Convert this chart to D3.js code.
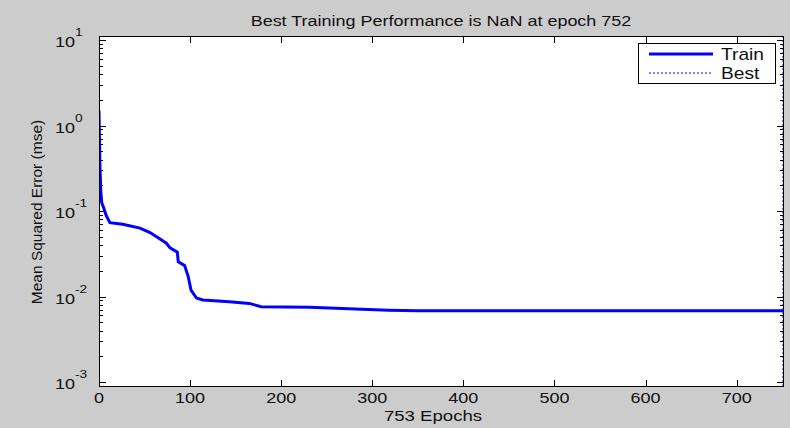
<!DOCTYPE html>
<html>
<head>
<meta charset="utf-8">
<script src="https://cdn.jsdelivr.net/npm/d3@7"></script>
<style>
    body { margin: 0; background: #fff; }
    text { font-family: 'Liberation Sans', Arial, sans-serif; fill: #111; }
</style>
</head>
<body>
<div class="main"></div>
<script>
// values
var epochs = [0, 1, 2, 3, 5, 8, 12, 26, 45, 56, 67, 74, 78, 86, 87, 94, 98, 101, 107, 114, 143, 165, 178, 231, 274, 318, 350, 752];
var mse = [1.5, 0.35, 0.17, 0.125, 0.11, 0.088, 0.073, 0.07, 0.063, 0.056, 0.047, 0.042, 0.037, 0.033, 0.0255, 0.023, 0.017, 0.0119, 0.0096, 0.0091, 0.0087, 0.0083, 0.0076, 0.0075, 0.0072, 0.0069, 0.0068, 0.0068];
var xTicks = [0, 100, 200, 300, 400, 500, 600, 700];
var yDecades = [-3, -2, -1, 0, 1];
var bestEpoch = 752;
var titleText = 'Best Training Performance is NaN at epoch 752';
var xLabel = '753 Epochs';
var yLabel = 'Mean Squared Error  (mse)';
var legendNames = ['Train', 'Best'];

var options = {
    'width': 790,
    'height': 428,
    'left': 99,
    'right': 784,
    'top': 36,
    'bottom': 387,
    'stretch': 1.2
};

var svg = d3.select('.main')
    .append('svg')
    .attr('width', options.width)
    .attr('height', options.height);

svg.append('rect')
    .attr('width', options.width)
    .attr('height', options.height)
    .style('fill', '#cccccc');

svg.append('rect')
    .attr('x', options.left)
    .attr('y', options.top)
    .attr('width', options.right - options.left)
    .attr('height', options.bottom - options.top)
    .style('fill', '#fff');

var x = d3.scaleLinear().domain([0, 752]).range([options.left, options.right]);
var y = d3.scaleLog().domain([1e-3, 1e1]).range([382, 40]);

// text stretched horizontally like the picture
function label(g, tx, ty, str, size, anchor) {
    return g.append('text')
        .attr('transform', 'translate(' + [tx, ty] + ') scale(' + options.stretch + ',1)')
        .attr('text-anchor', anchor)
        .style('font-size', size + 'px')
        .text(str);
}

svg.append('defs')
    .append('clipPath')
    .attr('id', 'clip')
    .append('rect')
    .attr('x', options.left)
    .attr('y', options.top)
    .attr('width', options.right - options.left)
    .attr('height', options.bottom - options.top);

// ticks
var minor = [];
yDecades.forEach(function (d) {
    for (var k = 2; k <= 9; k++) {
        if (d < 1) minor.push(k * Math.pow(10, d));
    }
});
var major = yDecades.map(function (d) { return Math.pow(10, d); });

var gTicks = svg.append('g').style('stroke', '#000').style('stroke-width', 1);

gTicks.selectAll('.ymaj')
    .data(major)
    .enter()
    .append('path')
    .attr('d', function (d) {
        var yy = Math.round(y(d)) + 0.5;
        return 'M' + options.left + ',' + yy + 'h7M' + options.right + ',' + yy + 'h-7';
    });

gTicks.selectAll('.ymin')
    .data(minor)
    .enter()
    .append('path')
    .attr('d', function (d) {
        var yy = Math.round(y(d)) + 0.5;
        return 'M' + options.left + ',' + yy + 'h4M' + options.right + ',' + yy + 'h-4';
    });

gTicks.selectAll('.xt')
    .data(xTicks)
    .enter()
    .append('path')
    .attr('d', function (d) {
        var xx = Math.round(x(d)) + 0.5;
        return 'M' + xx + ',' + options.bottom + 'v-7M' + xx + ',' + options.top + 'v7';
    });

// train line
var line = d3.line()
    .x(function (d, i) { return x(epochs[i]); })
    .y(function (d) { return y(d); });

svg.append('path')
    .datum(mse)
    .attr('clip-path', 'url(#clip)')
    .attr('d', line)
    .style('fill', 'none')
    .style('stroke', '#0000ff')
    .style('stroke-width', 3);

// best marker
svg.append('line')
    .attr('x1', x(bestEpoch) - 1)
    .attr('x2', x(bestEpoch) - 1)
    .attr('y1', options.top)
    .attr('y2', options.bottom)
    .style('stroke', '#0000ff')
    .style('stroke-width', 1)
    .style('stroke-dasharray', '2,2');

// frame
svg.append('rect')
    .attr('x', options.left + 0.5)
    .attr('y', options.top + 0.5)
    .attr('width', options.right - options.left - 1)
    .attr('height', options.bottom - options.top - 1)
    .style('fill', 'none')
    .style('stroke', '#000');

// tick labels
xTicks.forEach(function (d) {
    label(svg, x(d), 403, d, 15, 'middle');
});

yDecades.forEach(function (d) {
    var t = svg.append('text')
        .attr('transform', 'translate(' + [55, y(Math.pow(10, d)) + 7] + ') scale(' + options.stretch + ',1)')
        .style('font-size', '15px');
    t.append('tspan').text('10');
    t.append('tspan')
        .attr('dy', -11)
        .style('font-size', '11.5px')
        .text(d);
});

label(svg, 441, 26, titleText, 15, 'middle');
label(svg, 433, 421, xLabel, 15.5, 'middle');

svg.append('text')
    .attr('transform', 'translate(42,212) rotate(-90)')
    .attr('text-anchor', 'middle')
    .style('font-size', '15.5px')
    .text(yLabel);

// legend
var lg = svg.append('g');
lg.append('rect')
    .attr('x', 638.5)
    .attr('y', 43.5)
    .attr('width', 137)
    .attr('height', 40)
    .style('fill', '#fff')
    .style('stroke', '#000');
lg.append('line')
    .attr('x1', 649).attr('x2', 713).attr('y1', 54).attr('y2', 54)
    .style('stroke', '#0000ff').style('stroke-width', 3);
lg.append('line')
    .attr('x1', 649).attr('x2', 713).attr('y1', 73).attr('y2', 73)
    .style('stroke', '#0000ff').style('stroke-width', 1).style('stroke-dasharray', '2,2');
label(lg, 721, 60, legendNames[0], 16, 'start');
label(lg, 721, 79, legendNames[1], 16, 'start');
</script>
</body>
</html>
